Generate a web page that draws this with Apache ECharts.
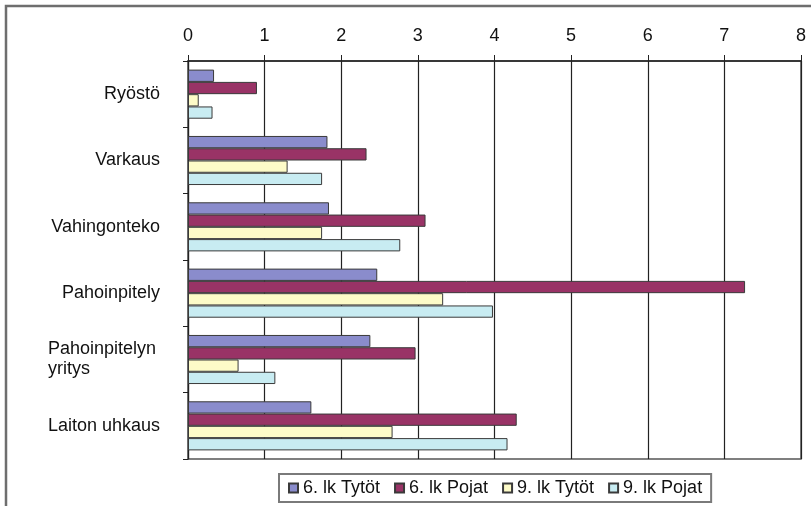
<!DOCTYPE html>
<html>
<head>
<meta charset="utf-8">
<script src="https://cdn.jsdelivr.net/npm/echarts@6/dist/echarts.min.js"></script>
<style>
html,body{margin:0;padding:0;background:#fff;}
#chart{width:811px;height:506px;}
</style>
</head>
<body>
<div id="chart"></div>
<script>
var categories = ['Ryöstö', 'Varkaus', 'Vahingonteko', 'Pahoinpitely', 'Pahoinpitelyn\nyritys', 'Laiton uhkaus'];
var seriesNames = ['6. lk Tytöt', '6. lk Pojat', '9. lk Tytöt', '9. lk Pojat'];
var tytot6 = [0.34, 1.82, 1.84, 2.47, 2.38, 1.61];
var pojat6 = [0.90, 2.33, 3.10, 7.27, 2.97, 4.29];
var tytot9 = [0.14, 1.30, 1.75, 3.33, 0.66, 2.67];
var pojat9 = [0.32, 1.75, 2.77, 3.98, 1.14, 4.17];
var xTicks = [0, 1, 2, 3, 4, 5, 6, 7, 8];

var colors = ['#8a8ccc', '#993366', '#fdfbc8', '#c8ecf2'];
var FONT = "'Liberation Sans', Arial, sans-serif";
var values = [tytot6, pojat6, tytot9, pojat9];

var chart = echarts.init(document.getElementById('chart'), null, {renderer: 'canvas'});
var option = {
  animation: false,
  backgroundColor: '#ffffff',
  textStyle: {fontFamily: FONT},
  graphic: [{
    type: 'rect',
    shape: {x: 6, y: 6, width: 900, height: 600},
    style: {fill: 'none', stroke: '#6e6e6e', lineWidth: 2.5},
    silent: true
  }],
  grid: {
    left: 188, right: 10, top: 61, bottom: 47,
    show: true, borderColor: '#555', borderWidth: 1.5,
    containLabel: false
  },
  legend: {
    data: seriesNames,
    bottom: 4,
    left: 279,
    itemWidth: 9, itemHeight: 9,
    itemGap: 14,
    padding: [5, 9],
    borderColor: '#7a7a7a', borderWidth: 2,
    icon: 'rect',
    textStyle: {fontFamily: FONT, fontSize: 18, color: '#111'}
  },
  xAxis: {
    type: 'value', position: 'top',
    min: xTicks[0], max: xTicks[xTicks.length - 1], interval: 1,
    axisLine: {show: true, lineStyle: {color: '#222', width: 1.5}},
    axisTick: {show: true, inside: false, length: 6, lineStyle: {color: '#222'}},
    axisLabel: {margin: 16, fontSize: 18, color: '#111', fontFamily: FONT},
    splitLine: {show: true, lineStyle: {color: '#222', width: 1.2}}
  },
  yAxis: {
    type: 'category', inverse: true,
    data: categories,
    axisLine: {show: true, lineStyle: {color: '#222', width: 1.2}},
    axisTick: {show: true, inside: false, length: 5, lineStyle: {color: '#222'}},
    axisLabel: {
      margin: 28, fontSize: 18, color: '#111', fontFamily: FONT, lineHeight: 20,
      formatter: function (v) {
        if (v.indexOf('\n') >= 0) {
          return v.split('\n').map(function (s) { return '{l|' + s + '}'; }).join('\n');
        }
        return v;
      },
      rich: {l: {width: 112, align: 'left', fontSize: 18, lineHeight: 20, fontFamily: FONT, color: '#111'}}
    },
    splitLine: {show: false}
  },
  series: seriesNames.map(function (name, i) {
    return {
      name: name,
      type: 'bar',
      data: values[i],
      barGap: '0%',
      barCategoryGap: '26%',
      itemStyle: {color: colors[i], borderColor: '#3a3a3a', borderWidth: 1}
    };
  })
};
chart.setOption(option);
</script>
</body>
</html>
